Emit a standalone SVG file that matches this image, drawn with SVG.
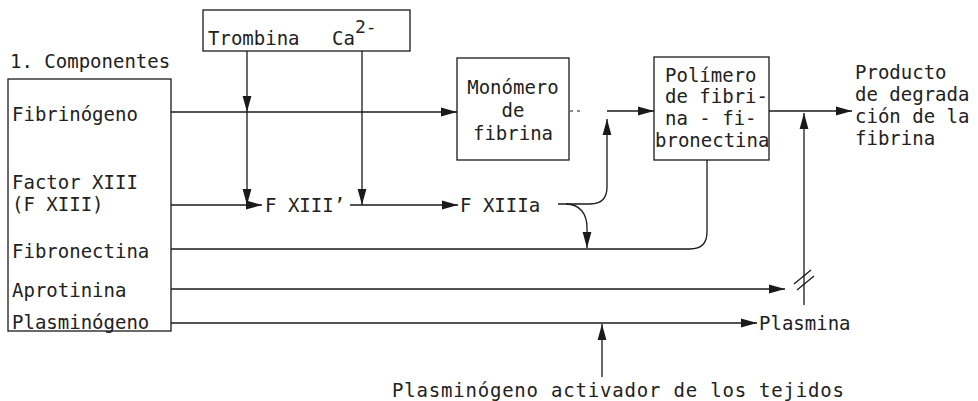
<svg xmlns="http://www.w3.org/2000/svg" width="978" height="401" viewBox="0 0 978 401">
<style>
text{font-family:"DejaVu Sans Mono","Liberation Mono",monospace;font-size:19px;fill:#222}
.sup{font-size:18px}
.box{fill:none;stroke:#1a1a1a;stroke-width:1.3}
.c{fill:none;stroke:#1a1a1a;stroke-width:1.3}
.dot{fill:none;stroke:#1a1a1a;stroke-width:1.2;stroke-dasharray:3 4}
</style>
<defs>
<marker id="ah" markerUnits="userSpaceOnUse" markerWidth="16" markerHeight="10" refX="16" refY="5" orient="auto">
<path d="M0,0.6 L16,5 L0,9.4 Z" fill="#1a1a1a"/>
</marker>
</defs>
<rect width="978" height="401" fill="#fff"/>

<g id="componentes">
<text x="10" y="68">1. Componentes</text>
<rect class="box" x="8" y="79" width="163" height="252"/>
<text x="12" y="121">Fibrinógeno</text>
<text x="12" y="189">Factor XIII</text>
<text x="12" y="211">(F XIII)</text>
<text x="12" y="258">Fibronectina</text>
<text x="12" y="297">Aprotinina</text>
<text x="12" y="329">Plasminógeno</text>
</g>

<g id="trombina-ca">
<rect class="box" x="203" y="10" width="207" height="41"/>
<text x="208" y="45">Trombina</text>
<text x="332" y="45">Ca<tspan class="sup" dy="-12">2-</tspan></text>
</g>

<g id="monomero">
<rect class="box" x="457" y="58" width="112" height="102"/>
<text x="513" y="94" text-anchor="middle">Monómero</text>
<text x="513" y="117" text-anchor="middle">de</text>
<text x="513" y="140" text-anchor="middle">fibrina</text>
</g>

<g id="polimero">
<rect class="box" x="654" y="57" width="115" height="103"/>
<text x="665" y="82">Polímero</text>
<text x="665" y="103">de fibri-</text>
<text x="665" y="125">na - fi-</text>
<text x="655" y="147">bronectina</text>
</g>

<g id="fxiii-prime">
<text x="265" y="212">F XIII’</text>
</g>

<g id="fxiiia">
<text x="460" y="212">F XIIIa</text>
</g>

<g id="producto">
<text x="855" y="79">Producto</text>
<text x="855" y="101">de degrada</text>
<text x="855" y="123">ción de la</text>
<text x="855" y="145">fibrina</text>
</g>

<g id="plasmina">
<text x="759" y="330">Plasmina</text>
</g>

<g id="activador">
<text x="392" y="397" textLength="452" lengthAdjust="spacing">Plasminógeno activador de los tejidos</text>
</g>

<g id="connectors">
<path class="c" d="M171,112 H457" marker-end="url(#ah)"/>
<path class="c" d="M247,51 V112" marker-end="url(#ah)"/>
<path class="c" d="M247,112 V205" marker-end="url(#ah)"/>
<path class="c" d="M362,51 V205" marker-end="url(#ah)"/>
<path class="c" d="M171,205 H262" marker-end="url(#ah)"/>
<path class="c" d="M350,205 H458" marker-end="url(#ah)"/>
<path class="dot" d="M570,111 H584"/>
<path class="c" d="M607,111 H654" marker-end="url(#ah)"/>
<path class="c" d="M558,204 H590 Q607,204 607,187 V119" marker-end="url(#ah)"/>
<path class="c" d="M566,204 C580,204 587,214 587,228 V248" marker-end="url(#ah)"/>
<path class="c" d="M171,249 H690 Q707,249 707,232 V160"/>
<path class="c" d="M769,111 H852" marker-end="url(#ah)"/>
<path class="c" d="M804,305 V113" marker-end="url(#ah)"/>
<path class="c" d="M794,284 L811,270"/>
<path class="c" d="M797,290 L814,276"/>
<path class="c" d="M171,289 H785" marker-end="url(#ah)"/>
<path class="c" d="M171,323 H757" marker-end="url(#ah)"/>
<path class="c" d="M602,377 V324" marker-end="url(#ah)"/>
</g>
</svg>
